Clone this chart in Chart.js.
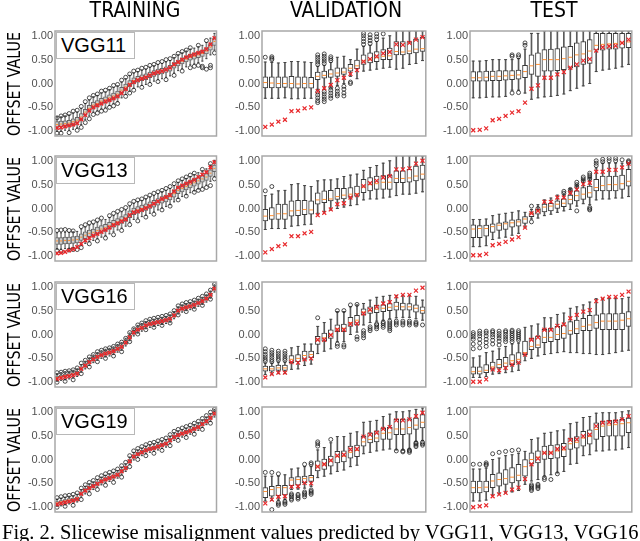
<!DOCTYPE html>
<html>
<head>
<meta charset="utf-8">
<script src="https://cdn.jsdelivr.net/npm/chart.js@4.4.0/dist/chart.umd.min.js"></script>
<style>
  body { margin: 0; width: 640px; height: 541px; overflow: hidden; background: #fff; position: relative; }
  .panel { position: absolute; }
  .coltitle { position: absolute; top: 0px; font-family: "Liberation Sans Narrow", "DejaVu Sans Condensed", sans-serif; font-size: 21px; line-height: 21px; color: #000; transform: translateX(-50%); white-space: nowrap; }
  .ytitle { position: absolute; font-family: "Liberation Sans Narrow", "DejaVu Sans Condensed", sans-serif; font-size: 18px; line-height: 18px; color: #000; white-space: nowrap; }
  .model { position: absolute; width: 79px; height: 27px; box-sizing: border-box; border: 1px solid #b8b8b8; background: #fff; font-family: "Liberation Sans", Arial, sans-serif; font-size: 20px; line-height: 25px; padding-left: 4px; color: #000; z-index: 2; }
  .caption { position: absolute; left: 2px; top: 522px; font-family: "Liberation Serif", "Times New Roman", serif; font-size: 20.5px; line-height: 20px; white-space: nowrap; color: #000; }
</style>
</head>
<body>
<script>
// ---- data: each box is [lowWhisker, q1, median, q3, highWhisker] ----
const yTicks = [-1, -0.5, 0, 0.5, 1];
const columns = ['TRAINING', 'VALIDATION', 'TEST'];
const models = ['VGG11', 'VGG13', 'VGG16', 'VGG19'];

// training, VGG11
const train11Gt = [-0.93,-0.92,-0.9,-0.88,-0.86,-0.83,-0.75,-0.66,-0.57,-0.5,-0.46,-0.42,-0.38,-0.35,-0.31,-0.27,-0.2,-0.12,-0.03,0.03,0.07,0.1,0.13,0.17,0.21,0.24,0.26,0.29,0.33,0.4,0.45,0.5,0.55,0.58,0.61,0.64,0.67,0.72,0.82,0.95];
const train11Box = [[-1.0,-0.92,-0.86,-0.8,-0.7],[-1.0,-0.91,-0.85,-0.79,-0.7],[-0.98,-0.9,-0.84,-0.78,-0.68],[-0.98,-0.89,-0.83,-0.77,-0.66],[-0.96,-0.86,-0.8,-0.74,-0.62],[-0.93,-0.83,-0.77,-0.71,-0.6],[-0.86,-0.76,-0.7,-0.63,-0.52],[-0.76,-0.66,-0.6,-0.54,-0.42],[-0.68,-0.58,-0.52,-0.46,-0.35],[-0.6,-0.51,-0.45,-0.39,-0.28],
  [-0.57,-0.48,-0.42,-0.36,-0.25],[-0.53,-0.43,-0.37,-0.31,-0.2],[-0.5,-0.4,-0.34,-0.28,-0.18],[-0.46,-0.36,-0.3,-0.24,-0.13],[-0.42,-0.32,-0.26,-0.2,-0.08],[-0.38,-0.28,-0.22,-0.16,-0.05],[-0.3,-0.2,-0.14,-0.08,0.03],[-0.23,-0.13,-0.07,-0.01,0.1],[-0.16,-0.06,0.0,0.06,0.17],[-0.1,0.0,0.06,0.12,0.22],
  [-0.07,0.03,0.09,0.15,0.25],[-0.04,0.06,0.12,0.18,0.28],[-0.02,0.08,0.14,0.2,0.3],[0.02,0.12,0.18,0.24,0.34],[0.05,0.15,0.21,0.27,0.37],[0.08,0.18,0.24,0.3,0.4],[0.1,0.2,0.26,0.32,0.42],[0.13,0.23,0.29,0.35,0.45],[0.16,0.26,0.32,0.38,0.48],[0.22,0.32,0.38,0.44,0.54],
  [0.27,0.37,0.43,0.49,0.6],[0.31,0.41,0.47,0.53,0.64],[0.35,0.45,0.51,0.57,0.68],[0.39,0.49,0.55,0.61,0.72],[0.41,0.51,0.57,0.63,0.74],[0.44,0.54,0.6,0.66,0.77],[0.47,0.57,0.63,0.69,0.8],[0.52,0.62,0.68,0.74,0.86],[0.6,0.7,0.76,0.83,0.95],[0.7,0.8,0.88,0.95,1.05]];
const train11Out = [[0,[-0.72,-1.04]],[1,[-0.68,-1.04]],[2,[-0.66]],[3,[-0.63,-1.03]],[4,[-0.58]],[5,[-0.56,-0.98]],[6,[-0.48,-0.92]],[7,[-0.38,-0.82]],[8,[-0.3,-0.74]],[9,[-0.25,-0.65]],[10,[-0.22,-0.62]],[11,[-0.16,-0.58]],[12,[-0.14,-0.56]],[13,[-0.1,-0.5]],[14,[-0.04,-0.47]],[15,[-0.02,-0.42]],[16,[0.07]],[17,[0.13,-0.27]],[18,[0.2,-0.2]],[19,[0.26,-0.14]],
  [20,[0.28]],[21,[0.32,-0.08]],[22,[0.34]],[23,[0.38,-0.02]],[24,[0.4]],[25,[0.44,0.04]],[26,[0.46]],[27,[0.5,0.08]],[28,[0.52]],[29,[0.57,0.17]],[30,[0.63]],[31,[0.67,0.26]],[32,[0.7]],[33,[0.75,0.33]],[34,[0.36]],[35,[0.8,0.38]],[36,[0.33,0.36]],[37,[0.3,0.9]],[38,[0.33,0.38]],[39,[0.64]]];

// training, VGG13
const train13Gt = [-0.94,-0.93,-0.91,-0.88,-0.85,-0.81,-0.74,-0.67,-0.62,-0.57,-0.53,-0.49,-0.45,-0.4,-0.35,-0.31,-0.27,-0.23,-0.14,-0.08,-0.06,-0.03,0.01,0.05,0.1,0.15,0.2,0.24,0.28,0.36,0.44,0.48,0.52,0.56,0.6,0.66,0.71,0.76,0.86,0.97];
const train13Box = [[-0.85,-0.75,-0.68,-0.61,-0.51],[-0.85,-0.75,-0.68,-0.61,-0.51],[-0.84,-0.74,-0.67,-0.6,-0.5],[-0.84,-0.74,-0.67,-0.6,-0.5],[-0.83,-0.73,-0.66,-0.59,-0.49],[-0.82,-0.72,-0.65,-0.58,-0.48],[-0.77,-0.67,-0.6,-0.53,-0.43],[-0.73,-0.63,-0.56,-0.49,-0.39],[-0.69,-0.59,-0.52,-0.45,-0.35],[-0.67,-0.57,-0.5,-0.43,-0.33],
  [-0.63,-0.53,-0.46,-0.39,-0.29],[-0.6,-0.5,-0.43,-0.36,-0.26],[-0.57,-0.47,-0.4,-0.33,-0.23],[-0.53,-0.43,-0.36,-0.29,-0.19],[-0.49,-0.39,-0.32,-0.25,-0.15],[-0.45,-0.35,-0.28,-0.21,-0.11],[-0.41,-0.31,-0.24,-0.17,-0.07],[-0.37,-0.27,-0.2,-0.13,-0.03],[-0.29,-0.19,-0.12,-0.05,0.05],[-0.23,-0.13,-0.06,0.01,0.11],
  [-0.2,-0.1,-0.03,0.04,0.14],[-0.17,-0.07,0.0,0.07,0.17],[-0.14,-0.04,0.03,0.1,0.2],[-0.1,0.0,0.07,0.14,0.24],[-0.07,0.03,0.1,0.17,0.27],[-0.03,0.07,0.14,0.21,0.31],[0.01,0.11,0.18,0.25,0.35],[0.04,0.14,0.21,0.28,0.38],[0.08,0.18,0.25,0.32,0.42],[0.14,0.24,0.31,0.38,0.48],
  [0.21,0.31,0.38,0.45,0.55],[0.25,0.35,0.42,0.49,0.59],[0.29,0.39,0.46,0.53,0.63],[0.33,0.43,0.5,0.57,0.67],[0.37,0.47,0.54,0.61,0.71],[0.41,0.51,0.58,0.65,0.75],[0.45,0.55,0.62,0.69,0.79],[0.49,0.59,0.66,0.73,0.83],[0.57,0.67,0.74,0.81,0.91],[0.67,0.77,0.84,0.91,1.01]];
const train13Out = [[0,[-0.46,-0.88]],[1,[-0.45,-0.9]],[2,[-0.44]],[3,[-0.46,-0.87]],[4,[-0.47,-0.86]],[5,[-0.86]],[6,[-0.38,-0.82]],[7,[-0.34]],[8,[-0.3,-0.74]],[9,[-0.28]],[10,[-0.24,-0.68]],[11,[-0.2]],[12,[-0.62]],[13,[-0.15]],[14,[-0.1,-0.55]],[15,[-0.06]],[16,[-0.02,-0.46]],[17,[0.02]],[18,[0.1,-0.34]],[19,[0.15]],
  [20,[0.18,-0.26]],[21,[0.2]],[22,[0.24,-0.18]],[23,[0.28]],[24,[0.32,-0.12]],[25,[0.35]],[26,[0.38,-0.03]],[27,[0.42]],[28,[0.46,0.05]],[29,[0.52]],[30,[0.58,0.18]],[31,[0.62]],[32,[0.66,0.26]],[33,[0.7]],[34,[0.74,0.34]],[35,[0.38]],[36,[0.4,0.82]],[37,[0.44]],[38,[0.48,0.94]],[39,[0.62]]];

// training, VGG16
const train16Gt = [-0.93,-0.91,-0.89,-0.87,-0.85,-0.82,-0.72,-0.65,-0.58,-0.52,-0.47,-0.43,-0.4,-0.38,-0.35,-0.3,-0.26,-0.17,-0.06,0.04,0.1,0.14,0.19,0.22,0.24,0.26,0.28,0.3,0.33,0.4,0.5,0.54,0.57,0.59,0.62,0.66,0.7,0.75,0.83,0.96];
const train16Box = [[-0.98,-0.92,-0.9,-0.87,-0.82],[-0.96,-0.9,-0.88,-0.85,-0.8],[-0.95,-0.89,-0.86,-0.83,-0.78],[-0.93,-0.87,-0.85,-0.82,-0.77],[-0.91,-0.85,-0.83,-0.8,-0.75],[-0.88,-0.83,-0.8,-0.77,-0.72],[-0.79,-0.74,-0.71,-0.68,-0.63],[-0.72,-0.67,-0.64,-0.61,-0.56],[-0.65,-0.6,-0.57,-0.54,-0.49],[-0.59,-0.54,-0.51,-0.48,-0.43],
  [-0.54,-0.49,-0.46,-0.43,-0.38],[-0.5,-0.45,-0.42,-0.39,-0.34],[-0.47,-0.42,-0.39,-0.36,-0.31],[-0.45,-0.4,-0.37,-0.34,-0.29],[-0.42,-0.37,-0.34,-0.31,-0.26],[-0.37,-0.32,-0.29,-0.26,-0.21],[-0.33,-0.28,-0.25,-0.22,-0.17],[-0.24,-0.19,-0.16,-0.13,-0.08],[-0.13,-0.08,-0.05,-0.02,0.03],[-0.03,0.02,0.05,0.08,0.13],
  [0.03,0.08,0.11,0.14,0.19],[0.07,0.12,0.15,0.18,0.23],[0.12,0.17,0.19,0.22,0.27],[0.15,0.2,0.22,0.25,0.3],[0.17,0.22,0.24,0.27,0.32],[0.19,0.24,0.26,0.29,0.34],[0.21,0.26,0.28,0.31,0.36],[0.23,0.28,0.3,0.33,0.38],[0.26,0.31,0.33,0.36,0.41],[0.33,0.38,0.4,0.43,0.48],
  [0.43,0.48,0.5,0.53,0.58],[0.47,0.52,0.54,0.57,0.62],[0.5,0.55,0.57,0.6,0.65],[0.52,0.57,0.59,0.62,0.67],[0.55,0.6,0.62,0.65,0.7],[0.59,0.64,0.66,0.69,0.74],[0.63,0.68,0.7,0.73,0.78],[0.68,0.73,0.75,0.78,0.83],[0.76,0.81,0.83,0.86,0.91],[0.89,0.94,0.96,0.99,1.04]];
const train16Out = [[0,[-0.8,-1.0]],[1,[-0.79]],[2,[-0.77,-0.98]],[3,[-0.76]],[4,[-0.74,-0.95]],[5,[-0.7]],[6,[-0.6,-0.82]],[7,[-0.54]],[8,[-0.47,-0.68]],[9,[-0.42]],[10,[-0.36,-0.57]],[11,[-0.33]],[12,[-0.3,-0.5]],[13,[-0.28]],[14,[-0.25,-0.45]],[15,[-0.2]],[16,[-0.16,-0.36]],[17,[-0.08]],[18,[0.04,-0.15]],[19,[0.12]],
  [20,[0.2,0.01]],[21,[0.24]],[22,[0.29,0.1]],[23,[0.32]],[24,[0.34,0.15]],[25,[0.36]],[26,[0.38,0.19]],[27,[0.4]],[28,[0.43,0.24]],[29,[0.5]],[30,[0.6,0.41]],[31,[0.64]],[32,[0.67,0.48]],[33,[0.69]],[34,[0.72,0.53]],[35,[0.76]],[36,[0.8,0.61]],[37,[0.85]],[38,[0.93,0.74]],[39,[1.05]]];

// training, VGG19
const train19Gt = [-0.94,-0.92,-0.9,-0.88,-0.86,-0.83,-0.72,-0.65,-0.6,-0.56,-0.51,-0.46,-0.42,-0.39,-0.36,-0.32,-0.25,-0.18,-0.04,0.06,0.11,0.15,0.19,0.22,0.24,0.27,0.3,0.33,0.4,0.47,0.51,0.54,0.57,0.6,0.64,0.68,0.74,0.8,0.87,0.96];
const train19Box = [[-0.98,-0.94,-0.91,-0.88,-0.83],[-0.97,-0.92,-0.89,-0.86,-0.81],[-0.95,-0.9,-0.87,-0.84,-0.79],[-0.93,-0.88,-0.85,-0.82,-0.77],[-0.92,-0.87,-0.84,-0.81,-0.76],[-0.89,-0.84,-0.81,-0.78,-0.73],[-0.79,-0.74,-0.71,-0.68,-0.63],[-0.72,-0.67,-0.64,-0.61,-0.56],[-0.67,-0.62,-0.59,-0.56,-0.51],[-0.63,-0.58,-0.55,-0.52,-0.47],
  [-0.58,-0.53,-0.5,-0.47,-0.42],[-0.53,-0.48,-0.45,-0.42,-0.37],[-0.49,-0.44,-0.41,-0.38,-0.33],[-0.46,-0.41,-0.38,-0.35,-0.3],[-0.43,-0.38,-0.35,-0.32,-0.27],[-0.39,-0.34,-0.31,-0.28,-0.23],[-0.32,-0.27,-0.24,-0.21,-0.16],[-0.25,-0.2,-0.17,-0.14,-0.09],[-0.11,-0.06,-0.03,0.0,0.05],[-0.01,0.04,0.07,0.1,0.15],
  [0.04,0.09,0.12,0.15,0.2],[0.08,0.13,0.16,0.19,0.24],[0.12,0.17,0.2,0.23,0.28],[0.15,0.2,0.23,0.26,0.31],[0.17,0.22,0.25,0.28,0.33],[0.2,0.25,0.28,0.31,0.36],[0.23,0.28,0.31,0.34,0.39],[0.26,0.31,0.34,0.37,0.42],[0.33,0.38,0.41,0.44,0.49],[0.4,0.45,0.48,0.51,0.56],
  [0.44,0.49,0.52,0.55,0.6],[0.47,0.52,0.55,0.58,0.63],[0.5,0.55,0.58,0.61,0.66],[0.53,0.58,0.61,0.64,0.69],[0.57,0.62,0.65,0.68,0.73],[0.61,0.66,0.69,0.72,0.77],[0.67,0.72,0.75,0.78,0.83],[0.73,0.78,0.81,0.84,0.89],[0.8,0.85,0.88,0.91,0.96],[0.89,0.94,0.97,1.0,1.05]];
const train19Out = [[0,[-0.8,-1.0]],[1,[-0.78]],[2,[-0.76,-0.98]],[3,[-0.75]],[4,[-0.73,-0.96]],[5,[-0.7]],[6,[-0.6,-0.84]],[7,[-0.53]],[8,[-0.48,-0.72]],[9,[-0.44]],[10,[-0.38,-0.63]],[11,[-0.34]],[12,[-0.3,-0.54]],[13,[-0.27]],[14,[-0.24,-0.48]],[15,[-0.2]],[16,[-0.13,-0.37]],[17,[-0.06]],[18,[0.08,-0.15]],[19,[0.18]],
  [20,[0.23,0.0]],[21,[0.27]],[22,[0.31,0.08]],[23,[0.34]],[24,[0.36,0.13]],[25,[0.39]],[26,[0.42,0.19]],[27,[0.45]],[28,[0.52,0.29]],[29,[0.59]],[30,[0.63,0.4]],[31,[0.66]],[32,[0.69,0.46]],[33,[0.72]],[34,[0.76,0.53]],[35,[0.8]],[36,[0.86,0.63]],[37,[0.92]],[38,[0.99,0.76]],[39,[1.05]]];

// validation, VGG11
const val11Gt = [-0.91,-0.86,-0.8,-0.76,-0.58,-0.57,-0.52,-0.5,-0.16,-0.1,-0.03,0.07,0.12,0.2,0.28,0.46,0.51,0.57,0.63,0.66,0.82,0.81,0.85,0.92,0.97];
const val11Box = [[-0.31,-0.09,0.02,0.14,0.45],[-0.31,-0.09,0.01,0.14,0.44],[-0.31,-0.09,0.0,0.14,0.43],[-0.3,-0.08,0.0,0.14,0.44],[-0.32,-0.1,0.0,0.15,0.46],[-0.32,-0.1,-0.01,0.14,0.46],[-0.31,-0.1,0.0,0.14,0.45],[-0.31,-0.1,0.0,0.13,0.44],
  [-0.12,0.08,0.15,0.24,0.36],[-0.12,0.11,0.17,0.26,0.38],[-0.08,0.13,0.2,0.29,0.44],[-0.04,0.15,0.22,0.33,0.55],[0.0,0.19,0.24,0.33,0.57],[0.15,0.26,0.32,0.4,0.5],[0.1,0.31,0.37,0.49,0.72],
  [0.26,0.4,0.47,0.6,0.78],[0.28,0.43,0.5,0.64,0.8],[0.3,0.46,0.54,0.67,0.88],[0.32,0.5,0.57,0.71,0.95],[0.34,0.5,0.58,0.74,1.0],[0.3,0.6,0.67,0.88,1.1],[0.32,0.6,0.66,0.88,1.1],[0.4,0.62,0.68,0.88,1.1],[0.42,0.64,0.72,0.93,1.1],[0.48,0.67,0.73,0.97,1.1]];
const val11Out = [[0,[0.55]],[1,[0.5,0.53,0.56]],[8,[0.4,0.45,0.5,0.55,0.6,-0.18,-0.24,-0.3,-0.36,-0.4]],[9,[0.42,0.47,0.52,0.57,0.62,-0.17,-0.22,-0.28,-0.33,-0.38]],[10,[0.48,0.52,0.56,-0.08,-0.14,-0.2,-0.26,-0.31]],[11,[-0.1,-0.16,-0.22,-0.26]],[12,[-0.06,-0.12,-0.2,-0.26]],[13,[0.0,0.03]],[15,[0.82,0.88,0.94,1.0,1.05]],[16,[0.84,0.9,0.96,1.02]],[17,[0.92,0.98,1.04]],[18,[1.04]]];

// test, VGG11
const test11Gt = [-0.98,-0.97,-0.94,-0.77,-0.74,-0.68,-0.61,-0.58,-0.4,-0.11,-0.04,0.12,0.12,0.19,0.24,0.33,0.4,0.48,0.51,0.69,0.76,0.78,0.79,0.85,0.92];
const test11Box = [[-0.3,0.05,0.12,0.25,0.47],[-0.3,0.05,0.12,0.25,0.47],[-0.29,0.05,0.13,0.26,0.48],[-0.28,0.06,0.15,0.26,0.5],[-0.28,0.06,0.15,0.27,0.5],[-0.27,0.07,0.16,0.27,0.5],[-0.14,0.08,0.17,0.27,0.5],[-0.14,0.09,0.18,0.28,0.52],
  [-0.2,0.12,0.25,0.38,0.72],[-0.33,0.19,0.37,0.6,1.05],[-0.3,0.15,0.4,0.64,1.05],[-0.28,0.26,0.5,0.71,1.1],[-0.27,0.26,0.5,0.72,1.1],[-0.25,0.27,0.5,0.73,1.1],[-0.22,0.29,0.52,0.77,1.1],[-0.15,0.32,0.55,0.78,1.1],[-0.1,0.35,0.6,0.85,1.1],[-0.05,0.4,0.62,0.88,1.1],[0.0,0.42,0.68,0.92,1.1],
  [0.25,0.7,0.8,1.05,1.1],[0.28,0.7,0.82,1.05,1.1],[0.3,0.72,0.83,1.05,1.1],[0.32,0.72,0.84,1.05,1.1],[0.35,0.74,0.85,1.05,1.1],[0.4,0.75,0.87,1.05,1.1]];
const test11Out = [[6,[0.57,0.6,-0.2]],[7,[0.56,0.6,-0.19]],[8,[0.8,0.85]]];

// validation, VGG13
const val13Gt = [-0.92,-0.85,-0.79,-0.75,-0.58,-0.58,-0.52,-0.49,-0.14,-0.09,-0.02,0.09,0.11,0.23,0.28,0.47,0.53,0.58,0.65,0.68,0.82,0.82,0.84,0.94,1.0];
const val13Box = [[-0.44,-0.26,-0.16,-0.02,0.27],[-0.42,-0.23,-0.15,0.02,0.3],[-0.42,-0.23,-0.11,0.09,0.37],[-0.42,-0.23,-0.11,0.09,0.38],[-0.37,-0.16,-0.05,0.16,0.5],[-0.36,-0.15,-0.04,0.17,0.52],[-0.34,-0.13,-0.02,0.17,0.48],[-0.33,-0.12,-0.03,0.16,0.46],
  [-0.1,0.09,0.18,0.33,0.58],[-0.07,0.12,0.19,0.37,0.6],[-0.03,0.16,0.2,0.38,0.6],[0.0,0.19,0.25,0.42,0.62],[0.03,0.2,0.28,0.42,0.67],[0.06,0.23,0.3,0.44,0.7],[0.08,0.26,0.31,0.47,0.72],
  [0.18,0.33,0.45,0.61,0.8],[0.2,0.37,0.5,0.65,0.86],[0.2,0.4,0.52,0.68,0.9],[0.22,0.4,0.55,0.69,0.95],[0.24,0.4,0.55,0.7,1.0],[0.27,0.54,0.63,0.79,1.1],[0.3,0.54,0.63,0.79,1.1],[0.3,0.55,0.64,0.82,1.1],[0.32,0.58,0.68,0.89,1.1],[0.35,0.61,0.72,0.91,1.1]];
const val13Out = [[0,[0.37]],[1,[0.46]]];

// test, VGG13
const test13Gt = [-0.98,-0.98,-0.95,-0.77,-0.74,-0.7,-0.65,-0.6,-0.4,-0.1,-0.05,0.14,0.14,0.23,0.23,0.33,0.4,0.51,0.54,0.77,0.77,0.81,0.81,0.86,0.94];
const test13Box = [[-0.8,-0.61,-0.43,-0.34,-0.23],[-0.8,-0.61,-0.42,-0.36,-0.23],[-0.78,-0.58,-0.42,-0.35,-0.22],[-0.65,-0.5,-0.38,-0.32,-0.15],[-0.62,-0.46,-0.35,-0.3,-0.12],[-0.6,-0.44,-0.32,-0.28,-0.1],[-0.56,-0.39,-0.3,-0.24,-0.08],[-0.52,-0.37,-0.28,-0.23,-0.05],
  [-0.4,-0.31,-0.22,-0.17,-0.08],[-0.22,-0.17,-0.1,-0.09,-0.02],[-0.2,-0.12,-0.05,-0.02,0.08],[-0.15,-0.07,0.03,0.09,0.18],[-0.12,-0.05,0.05,0.11,0.22],[-0.08,0.0,0.09,0.16,0.28],[-0.05,0.04,0.11,0.2,0.3],
  [-0.02,0.09,0.19,0.28,0.42],[0.05,0.16,0.27,0.37,0.5],[0.1,0.19,0.3,0.44,0.6],[0.08,0.23,0.33,0.47,0.65],[0.18,0.37,0.44,0.61,0.85],[0.2,0.37,0.48,0.68,0.95],[0.2,0.37,0.5,0.68,0.95],[0.22,0.37,0.5,0.68,0.95],[0.22,0.4,0.52,0.7,0.95],[0.25,0.47,0.57,0.82,0.95]];
const test13Out = [[9,[0.05,-0.28]],[10,[0.0]],[14,[0.32,0.36]],[15,[0.36,0.4]],[16,[0.45,0.5,0.55,-0.05]],[17,[0.58,0.62,0.66]],[18,[0.62,0.66,0.7,0.74,-0.01,-0.03,0.02]],[19,[0.9,0.95,1.0]],[20,[0.98,1.03]],[21,[1.0,1.05]],[22,[1.0,1.05]],[23,[1.02]],[24,[0.96,0.98,1.0]]];

// validation, VGG16
const val16Gt = [-0.9,-0.83,-0.8,-0.8,-0.58,-0.59,-0.52,-0.5,-0.11,-0.11,-0.01,0.1,0.1,0.22,0.23,0.44,0.52,0.58,0.65,0.68,0.8,0.83,0.83,0.92,0.98];
const val16Box = [[-0.84,-0.77,-0.72,-0.66,-0.6],[-0.84,-0.77,-0.72,-0.66,-0.6],[-0.82,-0.75,-0.7,-0.64,-0.58],[-0.82,-0.75,-0.7,-0.64,-0.58],[-0.73,-0.59,-0.52,-0.44,-0.28],[-0.72,-0.57,-0.5,-0.42,-0.25],[-0.65,-0.52,-0.44,-0.35,-0.2],[-0.62,-0.49,-0.42,-0.35,-0.2],
  [-0.4,-0.21,-0.12,-0.04,0.17],[-0.35,-0.14,-0.07,0.03,0.25],[-0.3,-0.08,0.0,0.1,0.32],[-0.15,0.06,0.12,0.2,0.48],[-0.15,0.06,0.13,0.22,0.48],[0.0,0.17,0.25,0.36,0.58],[0.05,0.2,0.3,0.4,0.62],
  [0.2,0.41,0.47,0.54,0.65],[0.25,0.44,0.5,0.58,0.72],[0.28,0.46,0.53,0.61,0.78],[0.3,0.48,0.55,0.62,0.8],[0.33,0.5,0.57,0.65,0.82],[0.35,0.51,0.59,0.68,0.82],[0.36,0.51,0.58,0.66,0.82],[0.36,0.51,0.58,0.65,0.82],[0.33,0.47,0.55,0.62,0.8],[0.3,0.44,0.5,0.58,0.72]];
const val16Out = [[0,[-0.3,-0.36,-0.42,-0.47,-0.52,-0.56]],[1,[-0.33,-0.38,-0.43,-0.48,-0.53,-0.57]],[2,[-0.35,-0.4,-0.45,-0.5,-0.54]],[3,[-0.35,-0.4,-0.45,-0.5,-0.54]],[8,[0.35]],[11,[0.5,-0.2,-0.25]],[12,[0.5,-0.22,-0.26]],[13,[0.62]],[14,[0.63,-0.05,-0.1]],
  [15,[0.08,0.03,-0.02,-0.07]],[16,[0.08,0.12,0.16]],[17,[0.12,0.16,0.2,0.22]],[18,[0.15,0.19,0.23,0.26]],[19,[0.08,0.12,0.16,0.2,0.24,0.28]],[20,[0.2,0.24,0.28]],[21,[0.2,0.24,0.28]],[22,[0.2,0.24,0.28]],[23,[0.2,0.23,0.26]],[24,[0.2]]];

// test, VGG16
const test16Gt = [-0.99,-0.99,-0.94,-0.73,-0.75,-0.7,-0.63,-0.59,-0.42,-0.11,-0.06,0.1,0.1,0.18,0.21,0.34,0.41,0.48,0.51,0.7,0.75,0.79,0.79,0.83,0.9];
const test16Box = [[-0.9,-0.83,-0.78,-0.68,-0.49],[-0.9,-0.83,-0.77,-0.68,-0.45],[-0.88,-0.8,-0.75,-0.63,-0.38],[-0.83,-0.73,-0.68,-0.58,-0.35],[-0.82,-0.7,-0.63,-0.52,-0.3],[-0.8,-0.68,-0.6,-0.48,-0.25],[-0.78,-0.63,-0.55,-0.42,-0.2],[-0.75,-0.6,-0.52,-0.38,-0.18],
  [-0.55,-0.42,-0.38,-0.14,0.15],[-0.5,-0.32,-0.25,-0.08,0.18],[-0.45,-0.28,-0.22,-0.04,0.22],[-0.42,-0.17,-0.06,0.11,0.35],[-0.4,-0.15,-0.06,0.13,0.35],[-0.38,-0.11,0.0,0.17,0.42],[-0.36,-0.08,0.02,0.2,0.45],
  [-0.38,0.0,0.08,0.27,0.55],[-0.38,0.02,0.12,0.3,0.58],[-0.4,0.08,0.17,0.34,0.62],[-0.4,0.08,0.2,0.4,0.68],[-0.42,0.13,0.25,0.41,0.75],[-0.42,0.1,0.28,0.44,0.75],[-0.4,0.1,0.28,0.44,0.75],[-0.38,0.1,0.28,0.44,0.75],[-0.35,0.1,0.3,0.45,0.75],[-0.33,0.17,0.33,0.48,0.78]];
const test16Out = [[0,[-0.3,-0.2,-0.1,-0.05,0.0,0.04]],[1,[-0.28,-0.18,-0.1,-0.03,0.02,0.07]],[2,[-0.25,-0.17,-0.1,-0.03,0.03,0.07]],[3,[-0.2,-0.12,-0.05,0.0,0.05,0.08]],[4,[-0.22,-0.14,-0.08,-0.03,0.02,0.07]],[5,[-0.15,-0.1,-0.05,0.0,0.05,0.08]],[6,[-0.15,-0.1,-0.06,-0.02,0.02,0.06,0.09]],[7,[-0.12,-0.08,-0.04,0.0,0.04,0.08]]];

// validation, VGG19
const val19Gt = [-0.92,-0.84,-0.78,-0.77,-0.57,-0.56,-0.49,-0.5,-0.15,-0.1,-0.02,0.08,0.1,0.21,0.22,0.48,0.52,0.56,0.64,0.68,0.82,0.82,0.84,0.91,0.98];
const val19Box = [[-0.87,-0.8,-0.67,-0.59,-0.35],[-0.86,-0.77,-0.63,-0.56,-0.35],[-0.85,-0.76,-0.59,-0.54,-0.35],[-0.84,-0.74,-0.59,-0.54,-0.32],[-0.63,-0.55,-0.43,-0.38,-0.2],[-0.62,-0.54,-0.42,-0.36,-0.18],[-0.6,-0.49,-0.4,-0.35,-0.15],[-0.57,-0.46,-0.38,-0.33,-0.15],
  [-0.38,-0.24,-0.14,-0.03,0.2],[-0.35,-0.21,-0.1,0.01,0.25],[-0.3,-0.14,-0.03,0.07,0.35],[-0.25,-0.07,0.06,0.17,0.48],[-0.22,-0.05,0.07,0.18,0.48],[-0.15,0.03,0.15,0.28,0.55],[-0.12,0.06,0.19,0.3,0.58],
  [0.12,0.28,0.37,0.49,0.78],[0.15,0.35,0.42,0.56,0.8],[0.18,0.37,0.45,0.6,0.82],[0.2,0.42,0.55,0.66,0.9],[0.22,0.42,0.56,0.68,0.95],[0.2,0.52,0.64,0.84,1.0],[0.2,0.52,0.64,0.84,1.0],[0.22,0.53,0.67,0.85,1.02],[0.38,0.63,0.72,0.87,1.05],[0.4,0.66,0.78,0.94,1.08]];
const val19Out = [[0,[-0.27]],[1,[-0.27,-1.05]],[2,[-0.3,-0.9,-0.93,-0.96]],[3,[-0.88,-0.91,-0.94]],[4,[-0.72,-0.75,-0.78,-0.82,-0.85]],[5,[-0.73,-0.76,-0.8,-0.83]],[6,[-0.68,-0.71,-0.74,-0.78,-0.1]],[7,[-0.64,-0.67,-0.7,-0.73,-0.1,-0.07]],[8,[0.28,0.33,0.37]],[10,[0.42]],[20,[0.18]],[21,[0.18,0.16]],[22,[0.15,0.18,0.2]],[23,[0.27,0.3,0.33,0.35]],[24,[0.3,0.33,0.36]]];

// test, VGG19
const test19Gt = [-1.0,-0.98,-0.96,-0.77,-0.73,-0.7,-0.63,-0.59,-0.41,-0.1,0.02,0.14,0.14,0.22,0.24,0.41,0.42,0.49,0.52,0.7,0.77,0.78,0.8,0.84,0.91];
const test19Box = [[-0.87,-0.7,-0.59,-0.45,-0.2],[-0.87,-0.7,-0.59,-0.45,-0.2],[-0.85,-0.68,-0.58,-0.45,-0.18],[-0.75,-0.59,-0.45,-0.31,0.0],[-0.72,-0.56,-0.42,-0.28,0.03],[-0.7,-0.52,-0.4,-0.21,0.08],[-0.68,-0.49,-0.37,-0.17,0.1],[-0.65,-0.45,-0.33,-0.1,0.13],
  [-0.52,-0.35,-0.15,0.0,0.17],[-0.45,-0.1,0.0,0.14,0.42],[-0.42,-0.07,0.05,0.18,0.45],[-0.35,0.0,0.14,0.28,0.55],[-0.32,0.02,0.15,0.3,0.57],[-0.28,0.03,0.18,0.31,0.6],[-0.25,0.06,0.2,0.34,0.62],
  [-0.1,0.21,0.33,0.45,0.75],[-0.08,0.24,0.36,0.48,0.78],[0.08,0.28,0.45,0.59,0.88],[0.1,0.32,0.48,0.62,0.9],[0.18,0.42,0.63,0.77,0.97],[0.18,0.48,0.7,0.8,0.98],[0.2,0.49,0.72,0.82,0.98],[0.2,0.49,0.73,0.82,0.98],[0.22,0.49,0.75,0.84,1.0],[0.25,0.56,0.77,0.87,1.02]];
const test19Out = [[0,[-0.1]],[1,[-0.1]],[2,[-0.07,-0.1,-0.12]],[3,[0.12]],[4,[0.15]],[5,[0.17]],[6,[0.19]],[7,[0.2]],[9,[-0.53,-0.56,-0.59,-0.62,-0.65]],[10,[-0.52,-0.55,-0.58,-0.61]],[11,[-0.38,-0.42]],[12,[-0.42]],[13,[-0.3]]];

// ---- layout ----
const colLeft = [55, 262, 470];
const colWidth = [163, 165, 163];
const rowTop = [31, 156, 282, 407];
const plotH = 105;
const axisW = 50;

const grid = [
  [[train11Gt, train11Box, train11Out], [val11Gt, val11Box, val11Out], [test11Gt, test11Box, test11Out]],
  [[train13Gt, train13Box, train13Out], [val13Gt, val13Box, val13Out], [test13Gt, test13Box, test13Out]],
  [[train16Gt, train16Box, train16Out], [val16Gt, val16Box, val16Out], [test16Gt, test16Box, test16Out]],
  [[train19Gt, train19Box, train19Out], [val19Gt, val19Box, val19Out], [test19Gt, test19Box, test19Out]]
];

// grey frame round the plot area
const framePlugin = {
  id: 'frame',
  afterDatasetsDraw(chart) {
    const { ctx, chartArea: a } = chart;
    ctx.save();
    ctx.strokeStyle = '#a8a8a8';
    ctx.lineWidth = 1.5;
    ctx.strokeRect(a.left, a.top, a.right - a.left, a.bottom - a.top);
    ctx.restore();
  }
};

function boxDatasets(gt, box, out, dense) {
  const caps = [];
  box.forEach((b, i) => caps.push({ x: i, y: b[0] }, { x: i, y: b[4] }));
  const pts = [];
  out.forEach(([i, ys]) => ys.forEach(y => pts.push({ x: i, y: y })));
  return [
    { type: 'bar', data: box.map(b => [b[0], b[4]]), backgroundColor: dense ? '#888' : '#5a5a5a', barThickness: 1, grouped: false, order: 6 },
    { type: 'bar', data: box.map(b => [b[1], b[3]]), backgroundColor: dense ? '#cfcfcf' : '#fff', borderColor: dense ? '#666' : '#3a3a3a', borderWidth: 1, borderSkipped: false, barThickness: dense ? 4 : 5, grouped: false, order: 5 },
    { type: 'line', data: caps, showLine: false, pointStyle: 'line', pointRadius: dense ? 1 : 1.5, pointBorderColor: '#444', borderColor: '#444', pointBorderWidth: 1, order: 4 },
    { type: 'line', data: box.map(b => b[2]), showLine: false, pointStyle: 'line', pointRadius: dense ? 1 : 2, pointBorderColor: '#ff8f33', borderColor: '#ff8f33', pointBorderWidth: 1, order: 3 },
    { type: 'line', data: pts, showLine: false, pointStyle: 'circle', pointRadius: 2, pointBorderColor: '#222', borderColor: '#222', pointBackgroundColor: 'rgba(0,0,0,0)', pointBorderWidth: 0.8, order: 2 },
    { type: 'line', data: gt, showLine: false, pointStyle: 'crossRot', pointRadius: dense ? 2.6 : 2.8, pointBorderColor: '#e8282b', borderColor: '#e8282b', pointBorderWidth: dense ? 1.5 : 1.2, order: 1 }
  ];
}

function makePanel(row, col, gt, box, out) {
  const cw = axisW + colWidth[col] + 4;
  const ch = plotH + 20;
  const wrap = document.createElement('div');
  wrap.className = 'panel';
  wrap.style.left = (colLeft[col] - axisW) + 'px';
  wrap.style.top = (rowTop[row] - 10) + 'px';
  const canvas = document.createElement('canvas');
  canvas.width = cw;
  canvas.height = ch;
  canvas.style.width = cw + 'px';
  canvas.style.height = ch + 'px';
  wrap.appendChild(canvas);
  document.body.appendChild(wrap);

  const chart = new Chart(canvas, {
    type: 'bar',
    data: { labels: gt.map((_, i) => i), datasets: boxDatasets(gt, box, out, col === 0) },
    options: {
      responsive: false,
      animation: false,
      events: [],
      layout: { padding: { top: 10, bottom: 10, right: 4, left: 0 } },
      plugins: { legend: { display: false }, tooltip: { enabled: false } },
      scales: {
        x: { display: false, offset: true },
        y: {
          min: -1.1, max: 1.1,
          afterBuildTicks: s => { s.ticks = yTicks.map(v => ({ value: v })); },
          afterFit: s => { s.width = axisW; },
          grid: { display: false, drawTicks: false },
          border: { display: false },
          ticks: { padding: 2, color: '#505050', font: { family: 'Liberation Sans', size: 11 }, callback: v => Number(v).toFixed(2) }
        }
      }
    },
    plugins: [framePlugin]
  });

  // line the plot area up with the figure grid
  const a = chart.chartArea;
  wrap.style.left = (colLeft[col] - a.left) + 'px';
  wrap.style.top = (rowTop[row] - a.top) + 'px';
}

grid.forEach((cols, r) => cols.forEach((p, c) => makePanel(r, c, p[0], p[1], p[2])));

// column titles
const titleX = [135, 346, 554];
columns.forEach((t, c) => {
  const d = document.createElement('div');
  d.className = 'coltitle';
  d.style.left = titleX[c] + 'px';
  d.textContent = t;
  document.body.appendChild(d);
});

// model labels and axis titles on the training column
models.forEach((m, r) => {
  const lab = document.createElement('div');
  lab.className = 'model';
  lab.style.left = (colLeft[0] + 1) + 'px';
  lab.style.top = (rowTop[r] + 1) + 'px';
  lab.textContent = m;
  document.body.appendChild(lab);

  const yt = document.createElement('div');
  yt.className = 'ytitle';
  yt.textContent = 'OFFSET VALUE';
  document.body.appendChild(yt);
  const w = yt.offsetWidth;
  yt.style.left = (13.5 - w / 2) + 'px';
  yt.style.top = (rowTop[r] + plotH / 2 - 9) + 'px';
  yt.style.transform = 'rotate(-90deg) scaleX(' + (104 / w).toFixed(3) + ')';
});

const cap = document.createElement('div');
cap.className = 'caption';
cap.textContent = 'Fig. 2. Slicewise misalignment values predicted by VGG11, VGG13, VGG16';
document.body.appendChild(cap);
</script>
</body>
</html>
